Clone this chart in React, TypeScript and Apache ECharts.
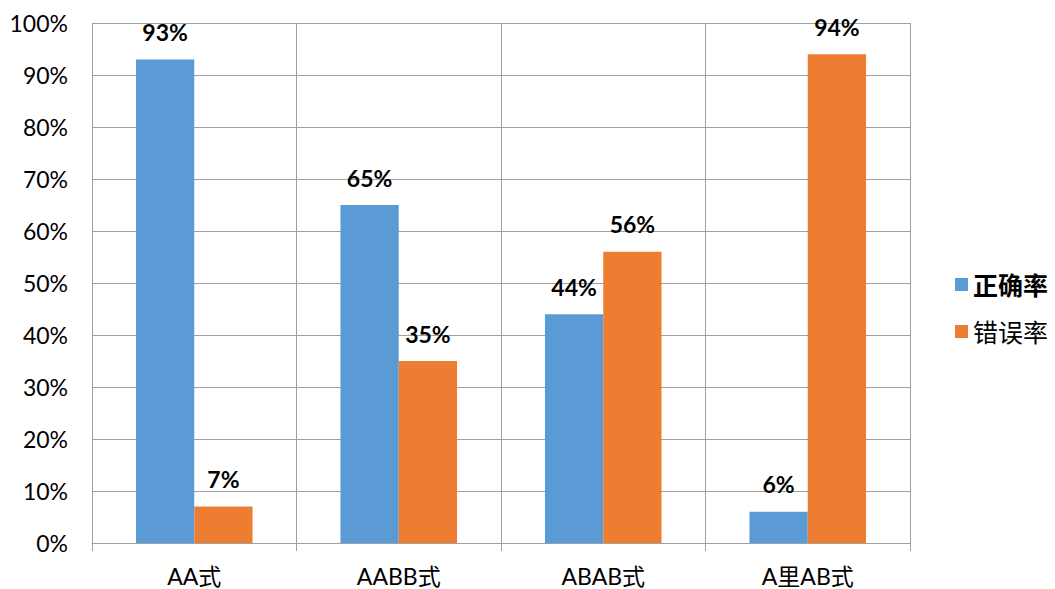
import React, { useEffect, useRef } from "react";
import * as echarts from "echarts";

const categories = ["AA式", "AABB式", "ABAB式", "A里AB式"];
const correctRate = [93, 65, 44, 6];
const errorRate = [7, 35, 56, 94];
const seriesNames = ["正确率", "错误率"];

const FONT = "Lato, 'Noto Sans CJK SC', sans-serif";

export default function App() {
  const ref = useRef<HTMLDivElement>(null);
  useEffect(() => {
    if (!ref.current) return;
    const chart = echarts.init(ref.current, undefined, { renderer: "svg" });
    const labelCfg = {
      show: true,
      position: "top",
      distance: 16,
      formatter: "{c}%",
      fontFamily: FONT,
      fontSize: 23,
      fontWeight: "bold",
      color: "#000",
    };
    chart.setOption({
      animation: false,
      backgroundColor: "#fff",
      textStyle: { fontFamily: FONT },
      grid: { left: 92, right: 145, top: 23, bottom: 46, containLabel: false },
      legend: {
        orient: "vertical",
        left: 950,
        top: 267,
        itemWidth: 13,
        itemHeight: 13,
        itemGap: 22,
        icon: "rect",
        textStyle: { fontFamily: FONT, fontSize: 25, color: "#000" },
        data: [
          { name: seriesNames[0], textStyle: { fontWeight: "bold" } },
          { name: seriesNames[1] },
        ],
      },
      xAxis: {
        type: "category",
        data: categories,
        axisLine: { show: true, lineStyle: { color: "#a0a0a0", width: 1 } },
        axisTick: { show: true, length: 8, lineStyle: { color: "#a0a0a0" } },
        splitLine: { show: true, lineStyle: { color: "#a0a0a0", width: 1 } },
        axisLabel: {
          fontFamily: FONT,
          fontSize: 23,
          lineHeight: 26,
          color: "#000",
          margin: 20,
        },
      },
      yAxis: {
        type: "value",
        min: 0,
        max: 100,
        interval: 10,
        axisLine: { show: false },
        axisTick: { show: false },
        splitLine: { show: true, lineStyle: { color: "#a0a0a0", width: 1 } },
        axisLabel: {
          formatter: "{value}%",
          fontFamily: FONT,
          fontSize: 23,
          color: "#000",
          margin: 24,
        },
      },
      series: [
        {
          name: seriesNames[0],
          type: "bar",
          data: correctRate,
          barGap: "0%",
          barCategoryGap: "43%",
          itemStyle: { color: "#5B9BD5" },
          label: labelCfg,
        },
        {
          name: seriesNames[1],
          type: "bar",
          data: errorRate,
          barGap: "0%",
          barCategoryGap: "43%",
          itemStyle: { color: "#ED7D31" },
          label: labelCfg,
        },
      ],
    });
    return () => chart.dispose();
  }, []);
  return (
    <div
      ref={ref}
      style={{ position: "fixed", left: 0, top: 0, width: 1055, height: 589 }}
    />
  );
}
